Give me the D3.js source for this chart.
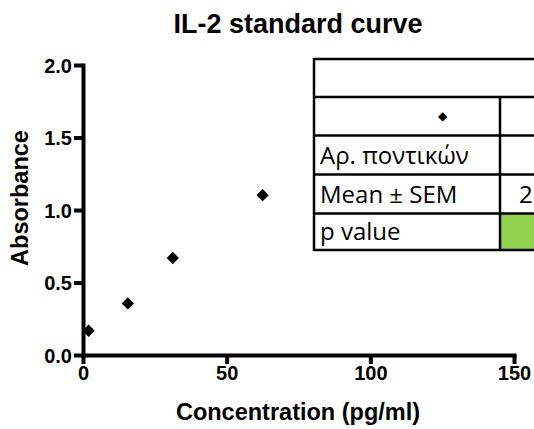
<!DOCTYPE html>
<html>
<head>
<meta charset="utf-8">
<script src="https://cdn.jsdelivr.net/npm/d3@7"></script>
<style>
  html, body { margin: 0; padding: 0; background: #fff; }
  svg { display: block; }
  .axis text { font-family: "Liberation Sans", Arial, sans-serif; font-weight: bold; font-size: 20px; fill: #000; }
  .axis path, .axis line { stroke: #000; }
</style>
</head>
<body>
<svg id="chart" width="534" height="429"></svg>
<script>
// IL-2 standards: concentration (pg/ml) and measured absorbance
const concentration = [1.95, 15.6, 31.25, 62.5, 125];
const absorbance = [0.167, 0.356, 0.669, 1.102, 1.668];

const xTicks = [0, 50, 100, 150];
const yTicks = [0.0, 0.5, 1.0, 1.5, 2.0];

// summary table rows shown over the upper right of the plot
const tableRowLabels = ["", "◆", "Αρ. ποντικών", "Mean ± SEM", "p value"];
const tableSecondColumn = ["", "", "", "2", ""];

const svg = d3.select("#chart");
const W = 534, H = 429;

const x = d3.scaleLinear().domain([0, 150]).range([83, 514]);
const y = d3.scaleLinear().domain([0, 2]).range([355, 65]);

// title
svg.append("text")
  .attr("x", 298).attr("y", 33)
  .attr("text-anchor", "middle")
  .style("font-family", "'Liberation Sans', Arial, sans-serif")
  .style("font-weight", "bold")
  .style("font-size", "27px")
  .text("IL-2 standard curve");

// axes
const yAxis = svg.append("g").attr("class", "axis")
  .attr("transform", `translate(${x(0)},0)`)
  .call(d3.axisLeft(y).tickValues(yTicks).tickFormat(d3.format(".1f"))
    .tickSize(9).tickSizeOuter(0).tickPadding(2));
const xAxis = svg.append("g").attr("class", "axis")
  .attr("transform", `translate(0,${y(0)})`)
  .call(d3.axisBottom(x).tickValues(xTicks).tickFormat(d3.format("d"))
    .tickSize(9).tickSizeOuter(0).tickPadding(2));
svg.selectAll(".axis path.domain").attr("stroke-width", 4).attr("stroke-linecap", "square");
svg.selectAll(".axis .tick line").attr("stroke-width", 4);
yAxis.selectAll("text").attr("dy", "0.36em");

// axis titles
svg.append("text")
  .attr("transform", `translate(28,198) rotate(-90)`)
  .attr("text-anchor", "middle")
  .style("font-family", "'Liberation Sans', Arial, sans-serif")
  .style("font-weight", "bold")
  .style("font-size", "23.5px")
  .text("Absorbance");
svg.append("text")
  .attr("x", 298).attr("y", 420)
  .attr("text-anchor", "middle")
  .style("font-family", "'Liberation Sans', Arial, sans-serif")
  .style("font-weight", "bold")
  .style("font-size", "23.5px")
  .text("Concentration (pg/ml)");

// data points as filled diamonds
const diamond = d3.symbol().type(d3.symbolSquare).size(76);
svg.append("g").selectAll("path")
  .data(concentration.map((c, i) => ({ c, a: absorbance[i] })))
  .join("path")
  .attr("d", diamond)
  .attr("transform", d => `translate(${x(d.c)},${y(d.a)}) rotate(45)`)
  .attr("fill", "#000");

// summary table
const tbl = svg.append("g");
const tLeft = 314, tRight = W + 10, colSplit = 500;
const rowEdges = [59, 97, 135.5, 174.5, 213.5, 250];
tbl.append("rect")
  .attr("x", tLeft).attr("y", rowEdges[0])
  .attr("width", tRight - tLeft).attr("height", rowEdges[5] - rowEdges[0])
  .attr("fill", "#fff");
tbl.append("rect")
  .attr("x", colSplit).attr("y", rowEdges[4])
  .attr("width", tRight - colSplit).attr("height", rowEdges[5] - rowEdges[4])
  .attr("fill", "#92d050");
tbl.selectAll("line.row")
  .data(rowEdges)
  .join("line").attr("class", "row")
  .attr("x1", tLeft).attr("x2", tRight)
  .attr("y1", d => d).attr("y2", d => d)
  .attr("stroke", "#000").attr("stroke-width", 2.5);
tbl.append("line")
  .attr("x1", tLeft).attr("x2", tLeft)
  .attr("y1", rowEdges[0] - 1).attr("y2", rowEdges[5] + 1)
  .attr("stroke", "#000").attr("stroke-width", 2.5);
tbl.append("line")
  .attr("x1", colSplit).attr("x2", colSplit)
  .attr("y1", rowEdges[1]).attr("y2", rowEdges[5])
  .attr("stroke", "#000").attr("stroke-width", 2.5);

const cellFont = "'Open Sans', 'Noto Sans', sans-serif";
tableRowLabels.forEach((label, i) => {
  if (!label) return;
  const mid = (rowEdges[i] + rowEdges[i + 1]) / 2;
  const isSymbol = label === "◆";
  tbl.append("text")
    .attr("x", isSymbol ? 442 : 320)
    .attr("y", mid)
    .attr("dy", isSymbol ? "0.3em" : "0.36em")
    .attr("text-anchor", isSymbol ? "middle" : "start")
    .style("font-family", cellFont)
    .style("font-size", isSymbol ? "12px" : "24px")
    .text(label);
});
tableSecondColumn.forEach((label, i) => {
  if (!label) return;
  const mid = (rowEdges[i] + rowEdges[i + 1]) / 2;
  tbl.append("text")
    .attr("x", 519).attr("y", mid).attr("dy", "0.36em")
    .style("font-family", cellFont)
    .style("font-size", "24px")
    .text(label);
});
</script>
</body>
</html>
